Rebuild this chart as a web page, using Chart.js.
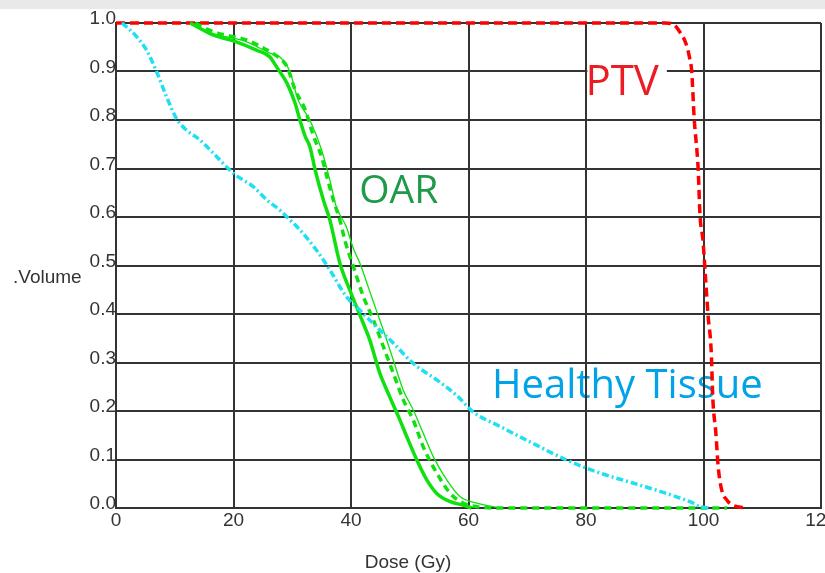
<!DOCTYPE html>
<html><head><meta charset="utf-8">
<script src="https://cdn.jsdelivr.net/npm/chart.js@4/dist/chart.umd.min.js"></script>
<style>
html,body{margin:0;padding:0;background:#fff;overflow:hidden;}
#wrap{position:relative;width:825px;height:573px;overflow:hidden;}
canvas{position:absolute;left:0;top:0;}
</style></head><body>
<div id="wrap"><canvas id="c" width="850" height="573"></canvas></div>
<script>
// ---- data ----
const xTickValues = [0, 20, 40, 60, 80, 100, 120];
const yTickValues = [0.0, 0.1, 0.2, 0.3, 0.4, 0.5, 0.6, 0.7, 0.8, 0.9, 1.0];

const ptvDose   = [0, 20, 40, 60, 80, 90, 93.5, 95.0, 96.0, 97.0, 97.6, 98.0, 98.4, 99.1, 99.4, 99.9, 100.4, 100.8, 101.3, 101.6, 102.1, 102.5, 103.1, 104.0, 104.9, 107.4];
const ptvVolume = [1, 1, 1, 1, 1, 1, 1.0, 0.996, 0.981, 0.958, 0.93, 0.899, 0.806, 0.697, 0.604, 0.553, 0.464, 0.394, 0.326, 0.223, 0.155, 0.085, 0.037, 0.016, 0.006, 0.0];

const oarSolidDose   = [12.6, 16.6, 20, 23.9, 26.2, 27.3, 29.1, 30.5, 31.3, 32.2, 33.0, 33.9, 35.3, 36.4, 38.1, 39.8, 41.5, 43.2, 44.9, 46.6, 48.1, 49.5, 51.2, 52.9, 54.6, 56.9, 59.1, 60.5];
const oarSolidVolume = [1.0, 0.975, 0.963, 0.944, 0.93, 0.91, 0.876, 0.834, 0.80, 0.766, 0.745, 0.697, 0.635, 0.594, 0.505, 0.449, 0.398, 0.346, 0.278, 0.229, 0.188, 0.147, 0.099, 0.058, 0.030, 0.013, 0.006, 0.0];

const oarDashDose   = [13.5, 16.5, 22.2, 26.2, 27.9, 29.1, 30.5, 32.2, 33.3, 34.1, 35.0, 35.9, 37.0, 38.1, 39.0, 40.4, 42.1, 43.8, 45.5, 47.2, 48.9, 50.6, 52.3, 54.6, 56.9, 59.1, 62, 65, 104];
const oarDashVolume = [1.0, 0.982, 0.965, 0.941, 0.927, 0.91, 0.862, 0.821, 0.779, 0.752, 0.724, 0.683, 0.635, 0.594, 0.55, 0.498, 0.436, 0.388, 0.333, 0.278, 0.223, 0.181, 0.126, 0.072, 0.030, 0.010, 0.002, 0.0, 0.0];

const oarThinDose   = [12.6, 16.6, 22, 26.2, 27.9, 29.6, 31.0, 33.0, 35.0, 36.4, 37.5, 39.2, 40.4, 41.5, 42.9, 44.3, 45.5, 47.2, 48.9, 50.6, 52.3, 54.0, 56.3, 58.6, 61.4, 63.7, 65.4];
const oarThinVolume = [1.0, 0.978, 0.962, 0.938, 0.93, 0.90, 0.841, 0.80, 0.738, 0.676, 0.621, 0.58, 0.535, 0.505, 0.457, 0.408, 0.367, 0.305, 0.243, 0.202, 0.154, 0.106, 0.058, 0.023, 0.010, 0.004, 0.0];

const healthyDose   = [1.0, 1.8, 3.5, 5.2, 6.9, 8.6, 10.3, 12.0, 14.3, 16.6, 20, 23.4, 25.6, 27.9, 29.6, 30.8, 34.1, 36.4, 39.2, 41.5, 44.3, 47.2, 50.6, 54.6, 58.0, 60.8, 65.4, 71.0, 76.7, 82.4, 88.1, 93.7, 97.7, 99.4, 101];
const healthyVolume = [1.0, 0.992, 0.972, 0.944, 0.90, 0.848, 0.803, 0.779, 0.759, 0.731, 0.69, 0.662, 0.636, 0.614, 0.594, 0.58, 0.532, 0.491, 0.436, 0.408, 0.374, 0.340, 0.298, 0.264, 0.232, 0.198, 0.168, 0.133, 0.099, 0.072, 0.051, 0.030, 0.013, 0.003, 0.0];

const annotLabels = ['PTV', 'OAR', 'Healthy Tissue'];
const annotX      = [79.9, 41.4, 64.0];
const annotY      = [0.852, 0.629, 0.227];
const annotColors = ['#ec1c24', '#1f9a4a', '#00a2e8'];
const annotSizes  = [42, 39, 40];

const xTitle = 'Dose (Gy)';
const yTitle = '.Volume';

function pts(xs, ys) { return xs.map((x, i) => ({x: x, y: ys[i]})); }

function drawAnnot(chart, i) {
  const ctx = chart.ctx, xs = chart.scales.x, ys = chart.scales.y;
  ctx.save();
  ctx.textAlign = 'left';
  ctx.textBaseline = 'alphabetic';
  ctx.font = annotSizes[i] + 'px "Open Sans"';
  const px = xs.getPixelForValue(annotX[i]);
  const py = ys.getPixelForValue(annotY[i]);
  if (i === 0) {
    const w = ctx.measureText(annotLabels[i]).width;
    ctx.fillStyle = '#ffffff';
    ctx.fillRect(px + 2, py - 32, w + 6, 38);
  }
  ctx.fillStyle = annotColors[i];
  ctx.fillText(annotLabels[i], px, py);
  ctx.restore();
}

const decor = {
  id: 'decor',
  beforeDraw(chart) {
    const ctx = chart.ctx;
    ctx.save();
    ctx.fillStyle = '#ffffff';
    ctx.fillRect(0, 0, chart.width, chart.height);
    ctx.fillStyle = '#e9e9e9';
    ctx.fillRect(0, 0, chart.width, 9);
    ctx.restore();
    if (chart.scales.x) { drawAnnot(chart, 1); drawAnnot(chart, 2); }
  },
  beforeDatasetsDraw(chart) {
    drawAnnot(chart, 0);
  },
  afterDraw(chart) {
    const ctx = chart.ctx;
    ctx.save();
    ctx.fillStyle = '#333333';
    ctx.font = '19px "Liberation Sans", Arial';
    ctx.textBaseline = 'alphabetic';
    ctx.textAlign = 'center';
    ctx.fillText(xTitle, 408, 568);
    ctx.textAlign = 'left';
    ctx.fillText(yTitle, 13, 283);
    ctx.restore();
  }
};

const gridColor = '#333333';
const tickFont = {family: '"Liberation Sans", Arial', size: 19};

new Chart(document.getElementById('c'), {
  type: 'scatter',
  data: {
    datasets: [
      {label: 'Healthy Tissue', data: pts(healthyDose, healthyVolume), showLine: true, clip: 8, borderColor: '#1fe0f2', borderWidth: 3.5, borderDash: [7, 3, 2, 3], pointRadius: 0, cubicInterpolationMode: 'monotone'},
      {label: 'OAR thin', data: pts(oarThinDose, oarThinVolume), showLine: true, clip: 8, borderColor: '#10e010', borderWidth: 1.3, pointRadius: 0, cubicInterpolationMode: 'monotone'},
      {label: 'OAR dashed', data: pts(oarDashDose, oarDashVolume), showLine: true, clip: 8, borderColor: '#10e010', borderWidth: 3.5, borderDash: [7, 5], pointRadius: 0, cubicInterpolationMode: 'monotone'},
      {label: 'OAR', data: pts(oarSolidDose, oarSolidVolume), showLine: true, clip: 8, borderColor: '#10e010', borderWidth: 3.5, pointRadius: 0, cubicInterpolationMode: 'monotone'},
      {label: 'PTV', data: pts(ptvDose, ptvVolume), showLine: true, clip: 8, borderColor: '#ff0000', borderWidth: 3.5, borderDash: [9, 5], pointRadius: 0, cubicInterpolationMode: 'monotone'}
    ]
  },
  options: {
    responsive: false,
    animation: false,
    devicePixelRatio: 1,
    layout: {padding: {left: 0, top: 23, right: 29, bottom: 0}},
    plugins: {legend: {display: false}, tooltip: {enabled: false}},
    scales: {
      x: {
        type: 'linear', min: 0, max: 120,
        afterBuildTicks: s => { s.ticks = xTickValues.map(v => ({value: v})); },
        afterFit: s => { s.height = 65; },
        grid: {color: gridColor, lineWidth: 2, drawTicks: false},
        border: {color: gridColor, width: 2},
        ticks: {font: tickFont, color: '#333333', padding: 1, maxRotation: 0, autoSkip: false, callback: v => String(v)}
      },
      y: {
        type: 'linear', min: 0, max: 1,
        afterBuildTicks: s => { s.ticks = yTickValues.map(v => ({value: v})); },
        afterFit: s => { s.width = 116; },
        grid: {color: gridColor, lineWidth: 2, drawTicks: false},
        border: {color: gridColor, width: 2},
        ticks: {font: tickFont, color: '#333333', padding: 0, labelOffset: -4, autoSkip: false, callback: v => Number(v).toFixed(1)}
      }
    }
  },
  plugins: [decor]
});
</script>
</body></html>
